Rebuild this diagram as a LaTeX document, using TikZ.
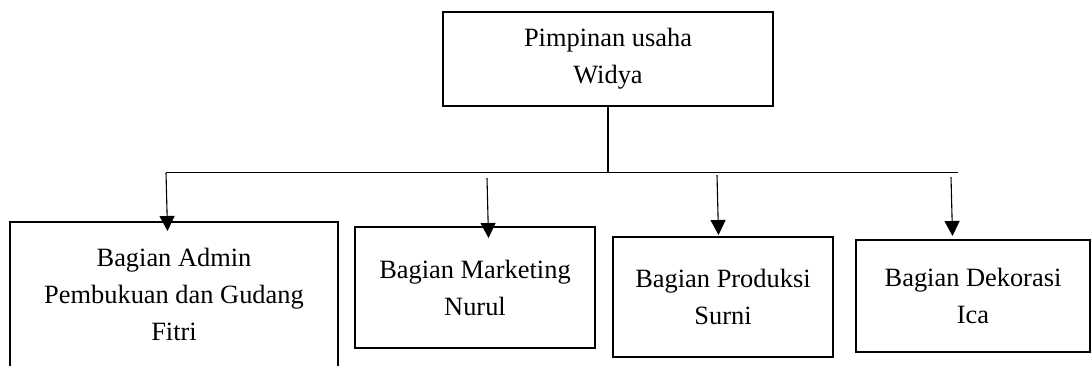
\documentclass[tikz,border=0pt]{standalone}
\usepackage{fontspec}
\setmainfont{Liberation Serif}
\usetikzlibrary{arrows.meta}
\begin{document}
\begin{tikzpicture}[x=1pt,y=-1pt,
  unitbox/.style={draw=black, line width=2.6pt, inner sep=0pt, align=center,
    font=\fontsize{26.4pt}{37pt}\selectfont},
  wire/.style={draw=black, line width=1.1pt},
  arr/.style={wire, -{Triangle[width=15pt,length=15pt]}}]
  \useasboundingbox (0,0) rectangle (1091,365);
  \clip (0,0) rectangle (1091,365);

  % head of the business
  \node[unitbox, minimum width=330pt, minimum height=94pt] (top) at (608,59)
    {Pimpinan usaha\\Widya};

  % departments
  \node[unitbox, minimum width=328pt, minimum height=145pt] (admin) at (174,294.5)
    {Bagian Admin\\Pembukuan dan Gudang\\Fitri};
  \node[unitbox, minimum width=240pt, minimum height=121pt] (mkt) at (475,287.5)
    {Bagian Marketing\\Nurul};
  \node[unitbox, minimum width=220pt, minimum height=120pt] (prod) at (723,297)
    {Bagian Produksi\\Surni};
  \node[unitbox, minimum width=234pt, minimum height=112pt] (deko) at (973,296)
    {Bagian Dekorasi\\Ica};

  % distribution line
  \coordinate (busL) at (166,172.5);
  \coordinate (busR) at (958,172.5);
  \draw[wire] (busL) -- (busR);
  \draw[wire] (top.south) -- (top.south |- busL);

  % arrow starts and tips
  \coordinate (s1) at (166,172.5);  \coordinate (e1) at (167.5,231);
  \coordinate (s2) at (487,178);    \coordinate (e2) at (488.5,238);
  \coordinate (s3) at (717,175);    \coordinate (e3) at (718.5,235);
  \coordinate (s4) at (951,177);    \coordinate (e4) at (952.5,236);

  \draw[arr] (s1) -- (e1);
  \draw[arr] (s2) -- (e2);
  \draw[arr] (s3) -- (e3);
  \draw[arr] (s4) -- (e4);
\end{tikzpicture}
\end{document}
